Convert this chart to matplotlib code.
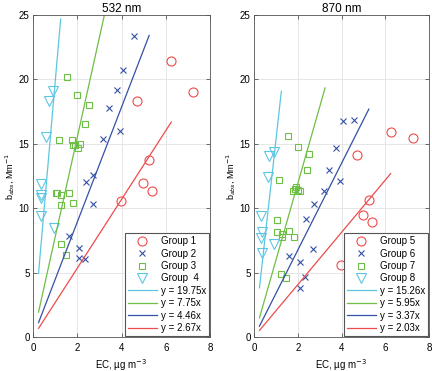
import numpy as np
import matplotlib
matplotlib.use("Agg")
import matplotlib.pyplot as plt

plt.rcParams['font.family'] = ['Liberation Sans', 'DejaVu Sans']

# ---- 532 nm panel data ----
g1_x = [6.22, 7.22, 4.70, 5.23, 4.97, 5.38, 3.98]
g1_y = [21.4, 19.0, 18.35, 13.74, 11.95, 11.37, 10.55]
g2_x = [4.55, 4.05, 3.78, 3.42, 3.92, 3.18, 2.72, 2.40, 2.70, 1.62, 2.10, 2.07, 2.33]
g2_y = [23.4, 20.75, 19.2, 17.8, 16.0, 15.35, 12.6, 12.04, 10.36, 7.83, 6.92, 6.12, 6.07]
g3_x = [1.53, 1.98, 2.52, 2.37, 1.16, 1.76, 1.83, 1.92, 2.04, 2.13,
        1.05, 1.10, 1.28, 1.61, 1.25, 1.80, 1.25, 1.47]
g3_y = [20.2, 18.76, 18.04, 16.5, 15.33, 15.27, 14.94, 14.94, 14.7, 14.96,
        11.2, 11.2, 11.0, 11.19, 10.26, 10.44, 7.2, 6.33]
g4_x = [0.90, 0.71, 0.60, 0.35, 0.38, 0.36, 0.38, 0.93]
g4_y = [19.1, 18.3, 15.5, 11.9, 11.0, 10.8, 9.4, 8.45]

# ---- 870 nm panel data ----
g5_x = [6.24, 7.26, 4.72, 5.24, 4.98, 5.38, 3.97]
g5_y = [15.92, 15.43, 14.1, 10.62, 9.46, 8.91, 5.56]
g6_x = [4.07, 4.56, 3.77, 3.43, 3.93, 3.20, 2.72, 2.38, 1.60, 2.11, 2.71, 2.31, 2.08]
g6_y = [16.77, 16.82, 14.65, 13.0, 12.1, 11.32, 10.31, 9.2, 6.3, 5.8, 6.87, 4.63, 3.84]
g7_x = [1.54, 1.99, 2.53, 2.40, 1.13, 1.80, 1.86, 1.90, 2.00, 2.12,
        1.06, 1.04, 1.27, 1.28, 1.58, 1.82, 1.24, 1.48]
g7_y = [15.58, 14.75, 14.24, 13.0, 12.2, 11.3, 11.5, 11.65, 11.45, 11.3,
        9.05, 8.16, 8.0, 7.78, 8.22, 7.75, 4.87, 4.6]
g8_x = [0.90, 0.68, 0.62, 0.33, 0.38, 0.34, 0.90, 0.38]
g8_y = [14.35, 14.05, 12.4, 9.4, 8.15, 7.7, 7.2, 6.55]

# fitted slopes (y = k x) and x extent of each fit line
slopes_532 = [19.75, 7.75, 4.46, 2.67]
slopes_870 = [15.26, 5.95, 3.37, 2.03]
fit_start = 0.25
fit_end = [1.25, 3.25, 5.25, 6.25]

red = '#EE4B4B'
blue = '#3550A5'
green = '#6DBF45'
cyan = '#5CC6E2'
fit_colors = [cyan, green, blue, red]

fig = plt.figure(figsize=(4.32, 3.71), dpi=100)
ax1 = fig.add_axes([33/432, 34/371, 177/432, 322/371])
ax2 = fig.add_axes([254/432, 34/371, 175/432, 322/371])


def panel(ax, groups, names, slopes, title):
    styles = [('o', red, 6.5), ('x', blue, 4), ('s', green, 3.8), ('v', cyan, 6.5)]
    handles = []
    for (gx, gy), (m, c, ms), nm in zip(groups, styles, names):
        h, = ax.plot(gx, gy, linestyle='none', marker=m, ms=ms, mfc='none',
                     mec=c, mew=0.8, label=nm)
        handles.append(h)
    for k, xe, c in zip(slopes, fit_end, fit_colors):
        xx = np.array([fit_start, xe])
        h, = ax.plot(xx, k*xx, color=c, lw=0.9, label='y = {:.2f}x'.format(k))
        handles.append(h)
    ax.set_xlim(0, 8)
    ax.set_ylim(0, 25)
    ax.set_xticks([0, 2, 4, 6, 8])
    ax.set_yticks([0, 5, 10, 15, 20, 25])
    ax.grid(True, color='#e6e6e6', lw=0.7)
    ax.set_axisbelow(True)
    ax.tick_params(direction='in', top=True, right=True, length=3,
                   labelsize=7, color='#555555', width=0.6, pad=2.5)
    ax.tick_params(axis='x', pad=4)
    for s in ax.spines.values():
        s.set_color('#555555')
        s.set_linewidth(0.6)
    ax.set_title(title, fontsize=8.5, pad=2)
    ax.set_xlabel('EC, µg m$^{-3}$', fontsize=7, labelpad=3)
    ax.set_ylabel('b$_{abs}$, Mm$^{-1}$', fontsize=6.5, labelpad=1)
    leg = ax.legend(handles=handles, loc='lower right', fontsize=7,
                    handlelength=3, numpoints=1, borderaxespad=0.1,
                    labelspacing=0.25, fancybox=False, edgecolor='#555555',
                    framealpha=1, borderpad=0.3, handletextpad=0.4)
    leg.get_frame().set_linewidth(0.8)


panel(ax1, [(g1_x, g1_y), (g2_x, g2_y), (g3_x, g3_y), (g4_x, g4_y)],
      ['Group 1', 'Group 2', 'Group 3', 'Group  4'], slopes_532, '532 nm')
panel(ax2, [(g5_x, g5_y), (g6_x, g6_y), (g7_x, g7_y), (g8_x, g8_y)],
      ['Group 5', 'Group 6', 'Group 7', 'Group 8'], slopes_870, '870 nm')

fig.savefig('out.png', dpi=100)
